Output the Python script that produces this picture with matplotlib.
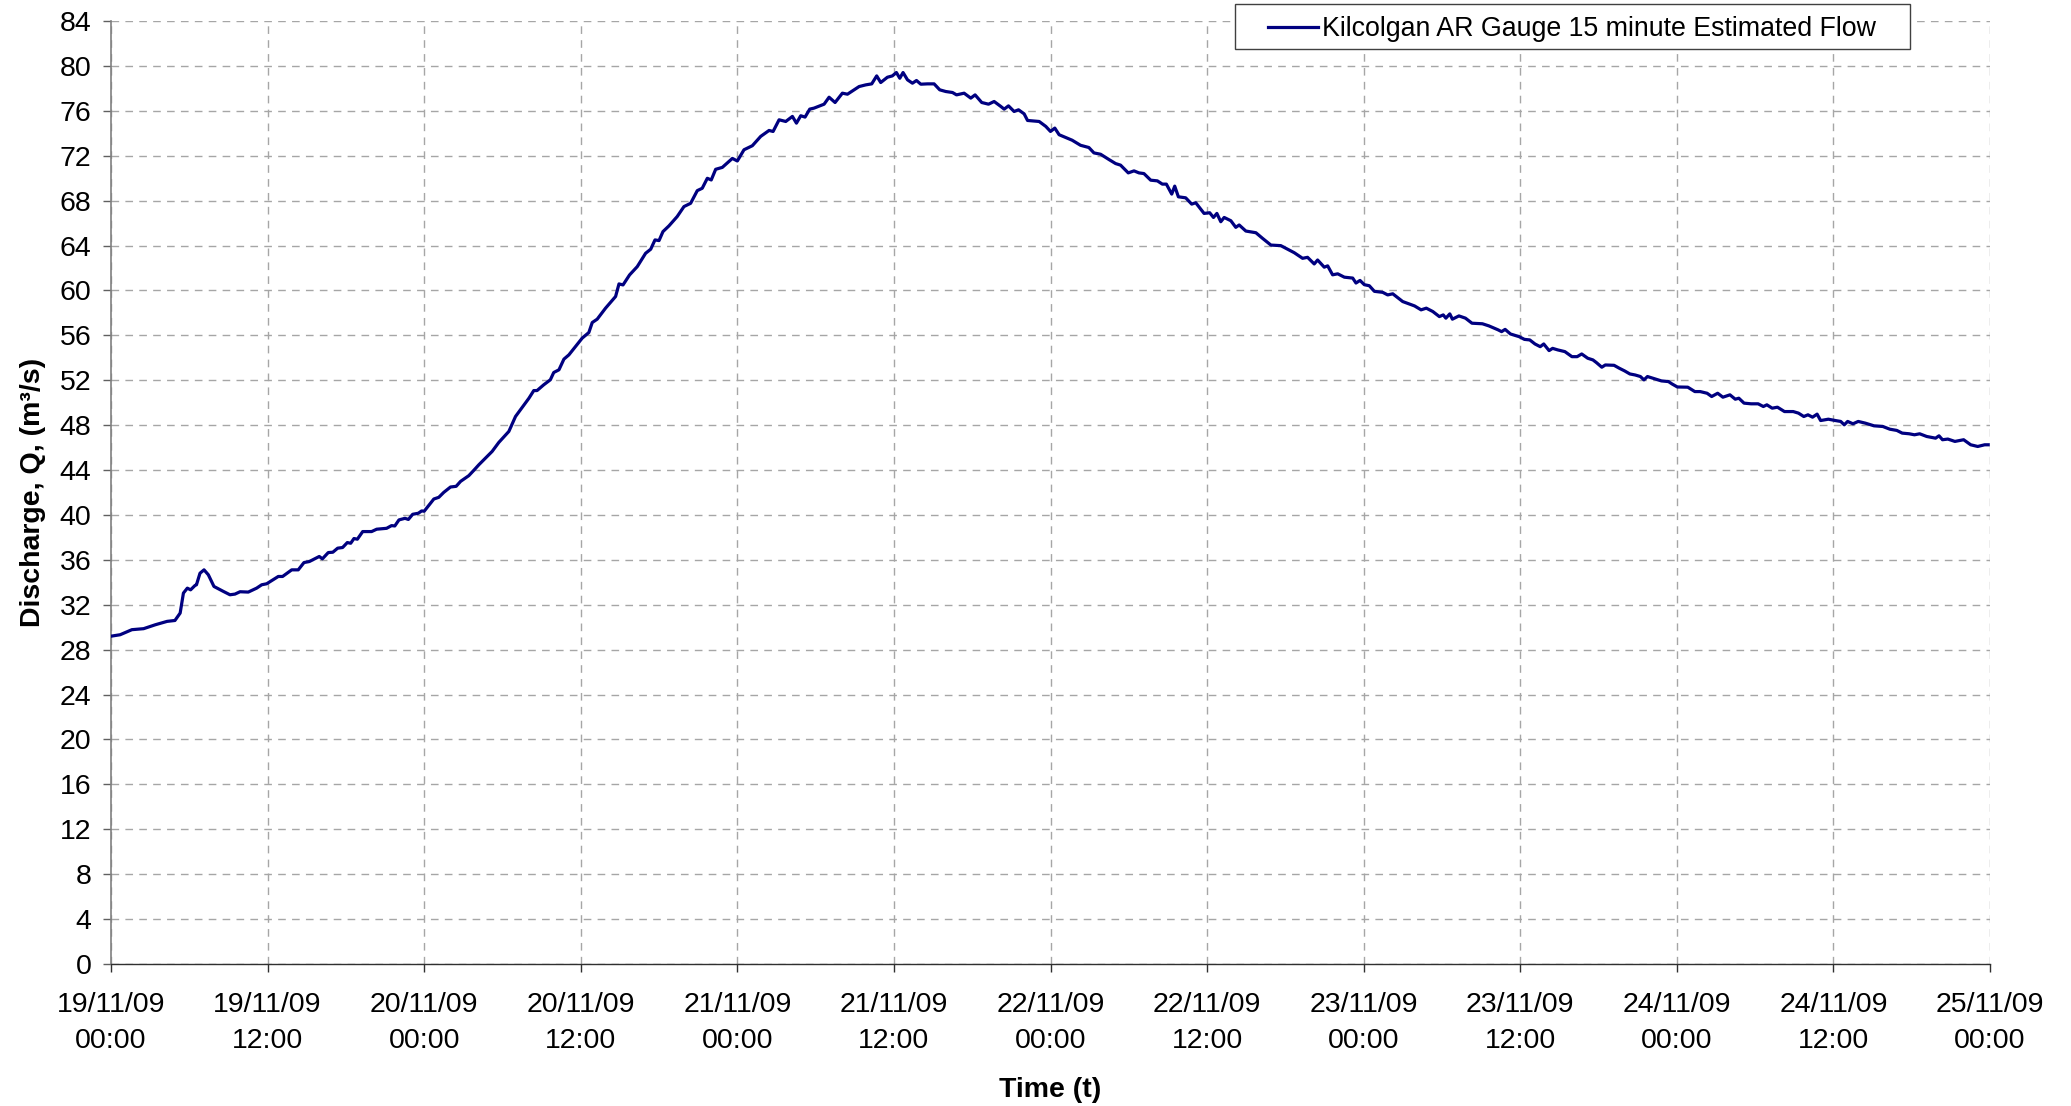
import matplotlib
matplotlib.use("Agg")
import matplotlib.pyplot as plt
from matplotlib.patches import Rectangle
from matplotlib.lines import Line2D
import pandas as pd
import numpy as np

plt.rcParams['font.family'] = ['Liberation Sans', 'DejaVu Sans']

start = pd.Timestamp("2009-11-19 00:00")

hours = [
    0.0, 0.7, 1.6, 2.5, 3.4, 4.3, 4.9, 5.3, 5.55, 5.85, 6.1, 6.44, 6.55, 6.82, 7.13, 7.46, 7.89,
    8.61, 9.12, 9.5, 9.89, 10.52, 11.16, 11.55, 11.93, 12.82, 13.15, 13.85, 14.35, 14.79, 15.2,
    15.96, 16.2, 16.65, 17.0, 17.37, 17.75, 18.11, 18.37, 18.62, 18.88, 19.29, 19.97, 20.36,
    21.12, 21.5, 21.75, 22.07, 22.53, 22.79, 23.12, 23.55, 23.81,
    24.0, 24.74, 25.12, 25.5, 26.02, 26.45, 26.79, 27.42, 27.8, 28.19, 29.21, 29.72, 30.49,
    31.0, 32.03, 32.4, 32.65, 33.16, 33.67, 33.93, 34.33, 34.71, 35.09, 35.6, 36.11, 36.62,
    36.88, 37.26, 37.9, 38.67, 38.93, 39.24, 39.74, 40.33, 40.97, 41.36, 41.69, 42.0, 42.3,
    42.76, 43.39, 43.91, 44.42, 44.93, 45.31, 45.7, 46.0, 46.34, 46.85, 47.62, 48.0,
    48.51, 49.15, 49.79, 50.43, 50.74, 51.2, 51.71, 52.22, 52.53, 52.86, 53.19, 53.55, 53.88,
    54.65, 55.03, 55.49, 56.05, 56.44, 56.95, 57.33, 57.84, 58.3, 58.68, 58.99, 59.5, 59.88,
    60.19, 60.45, 60.7, 61.04, 61.42, 61.73, 62.06, 62.57, 63.08, 63.51, 63.97, 64.49, 64.8,
    65.38, 65.89, 66.22, 66.73, 67.25, 67.68, 68.19, 68.45, 68.78, 69.21, 69.55, 69.98, 70.24,
    71.13, 71.64, 72.0, 72.33, 72.66,
    73.66, 74.3, 74.94, 75.33, 75.84, 76.48, 76.99, 77.37, 77.96, 78.4, 78.78, 79.16, 79.68,
    80.19, 80.57, 80.88, 81.29, 81.52, 81.8, 82.36, 82.82, 83.13, 83.77, 84.2, 84.49, 84.75,
    85.05, 85.31, 85.82, 86.2, 86.46, 86.97, 87.74, 88.25, 88.89, 89.65, 90.04, 90.68, 91.32,
    91.7, 92.21, 92.47, 92.98, 93.24, 93.62, 94.01, 94.52, 95.16, 95.41, 95.72, 96.05, 96.43,
    96.82, 97.46, 97.84, 98.23, 98.99, 99.9, 100.4, 100.8, 101.3, 101.8, 102.1, 102.3, 102.6,
    102.8, 103.3, 103.8, 104.3, 105.1, 105.6, 106.3,
    106.57, 106.84, 107.25, 107.92, 108.32, 108.73, 109.13, 109.53, 109.8, 110.21, 110.48,
    110.88, 111.42, 111.96, 112.36, 112.71, 113.17, 113.57, 113.84, 114.25, 114.52, 115.19,
    115.59, 116.0, 116.4, 116.8, 117.21, 117.48, 117.75, 118.42, 118.82, 119.36, 119.63,
    120.04, 120.84, 121.38, 121.79, 122.32, 122.67, 123.13, 123.53, 124.07, 124.48, 124.75,
    125.15, 125.69, 126.23, 126.63, 126.9, 127.31, 127.71, 128.25, 128.92, 129.32, 129.73,
    130.05, 130.4, 130.75, 131.02, 131.61, 132.15, 132.56, 132.83, 133.09, 133.5, 133.9,
    134.44, 135.11, 135.79, 136.32, 136.86, 137.27, 137.81, 138.21, 138.61, 139.15, 139.83,
    140.09, 140.36, 140.77, 141.31, 141.98, 142.52, 143.06, 143.59, 143.86,
]

flow = [
    29.2, 29.33, 29.78, 29.87, 30.22, 30.52, 30.6, 31.26, 33.04, 33.48, 33.33, 33.72, 33.78,
    34.81, 35.11, 34.67, 33.63, 33.19, 32.89, 32.95, 33.16, 33.13, 33.48, 33.78, 33.87, 34.52,
    34.52, 35.11, 35.11, 35.76, 35.85, 36.30, 36.09, 36.65, 36.68, 37.04, 37.10, 37.54, 37.48,
    37.9, 37.84, 38.52, 38.52, 38.73, 38.81, 39.05, 39.02, 39.56, 39.70, 39.6, 40.06, 40.15, 40.36,
    40.33, 41.42, 41.57, 42.01, 42.49, 42.55, 42.99, 43.5, 43.97, 44.47, 45.66, 46.46, 47.44,
    48.77, 50.4, 51.08, 51.08, 51.59, 52.04, 52.69, 52.93, 53.88, 54.26, 55.0, 55.75, 56.25,
    57.14, 57.44, 58.42, 59.46, 60.58, 60.49, 61.38, 62.12, 63.31, 63.67, 64.5, 64.44, 65.24,
    65.75, 66.58, 67.47, 67.76, 68.89, 69.1, 69.99, 69.84, 70.79, 70.96, 71.76, 71.53,
    72.53, 72.89, 73.72, 74.25, 74.16, 75.2, 75.05, 75.5, 74.9, 75.56, 75.44, 76.15, 76.24,
    76.59, 77.21, 76.74, 77.57, 77.48, 77.87, 78.16, 78.31, 78.4, 79.11, 78.52, 78.99, 79.11,
    79.41, 78.9, 79.41, 78.76, 78.46, 78.7, 78.37, 78.4, 78.4, 77.87, 77.72, 77.63, 77.42,
    77.57, 77.13, 77.42, 76.74, 76.59, 76.83, 76.39, 76.15, 76.44, 75.94, 76.09, 75.73, 75.14,
    75.05, 74.61, 74.16, 74.46, 73.87,
    73.38, 72.93, 72.73, 72.25, 72.13, 71.66, 71.3, 71.16, 70.47, 70.65, 70.47, 70.41, 69.82,
    69.76, 69.47, 69.47, 68.58, 69.29, 68.34, 68.25, 67.69, 67.81, 66.86, 66.92, 66.5, 66.86,
    66.12, 66.5, 66.21, 65.62, 65.83, 65.29, 65.14, 64.64, 64.04, 63.99, 63.75, 63.36, 62.86,
    62.95, 62.36, 62.71, 62.07, 62.19, 61.39, 61.48, 61.18, 61.1, 60.66, 60.89, 60.51, 60.42,
    59.92, 59.83, 59.6, 59.7, 59.01, 58.62, 58.27, 58.42, 58.12, 57.67, 57.82, 57.53, 57.91,
    57.44, 57.73, 57.53, 57.08, 57.03, 56.84, 56.49,
    56.33, 56.53, 56.12, 55.88, 55.64, 55.59, 55.23, 54.99, 55.23, 54.64, 54.84,
    54.7, 54.55, 54.1, 54.1, 54.34, 53.96, 53.81, 53.57, 53.16, 53.36, 53.33,
    53.07, 52.83, 52.56, 52.47, 52.33, 52.03, 52.33, 52.09, 51.94, 51.88, 51.67,
    51.4, 51.38, 50.99, 50.99, 50.84, 50.55, 50.84, 50.49, 50.7, 50.31, 50.4,
    49.96, 49.9, 49.9, 49.66, 49.81, 49.51, 49.6, 49.21, 49.21, 49.07, 48.77,
    48.92, 48.71, 48.98, 48.41, 48.53, 48.41, 48.33, 48.03, 48.33, 48.12, 48.33,
    48.18, 47.94, 47.88, 47.64, 47.53, 47.29, 47.23, 47.14, 47.23, 46.99, 46.84,
    47.05, 46.7, 46.76, 46.55, 46.7, 46.25, 46.1, 46.25, 46.25,
]

tick_hours = list(range(0, 145, 12))
y_ticks = list(range(0, 85, 4))
series_label = "Kilcolgan AR Gauge 15 minute Estimated Flow"
line_color = "#000080"

times = start + pd.to_timedelta(hours, unit="h")
tick_times = [start + pd.Timedelta(hours=h) for h in tick_hours]
tick_labels = [t.strftime("%d/%m/%y\n%H:%M") for t in tick_times]

W, H = 2071, 1106
fig = plt.figure(figsize=(W / 100, H / 100), dpi=100)
ax = fig.add_axes([111/W, 1 - 964/H, (1990-111)/W, (964-21)/H])

ax.plot(times, flow, color=line_color, lw=2.3, label=series_label, zorder=3)

ax.set_xlim(tick_times[0], tick_times[-1])
ax.set_ylim(0, 84)
ax.set_yticks(y_ticks)
ax.set_xticks(tick_times)
ax.set_xticklabels(tick_labels, linespacing=1.53)

grid_kw = dict(color="#a6a6a6", lw=1.0, linestyle=(0, (5.5, 4.5)))
ax.grid(True, axis="both", **grid_kw)
ax.set_axisbelow(True)

for s in ["top", "right"]:
    ax.spines[s].set_visible(False)
ax.spines["left"].set_color("#808080")
ax.spines["left"].set_linewidth(1.2)
ax.spines["bottom"].set_color("#303030")
ax.spines["bottom"].set_linewidth(1.0)

ax.tick_params(axis="y", direction="out", length=6, width=1, color="#606060",
               labelsize=20.5, pad=8)
ax.tick_params(axis="x", direction="out", length=6, width=1, color="#303030",
               labelsize=20.5, pad=14)

ax.set_xlabel("Time (t)", fontsize=20.5, fontweight="bold", labelpad=16)
ax.set_ylabel("Discharge, Q, (m³/s)", fontsize=20.5, fontweight="bold", labelpad=10)

# Legend box drawn in figure pixel space (Excel-style padding)
def fx(px):
    return px / W

def fy(py):
    return 1 - py / H

fig.patches.append(Rectangle((fx(1235), fy(49)), fx(1910) - fx(1235), fy(4) - fy(49),
                             transform=fig.transFigure, facecolor="white",
                             edgecolor="#404040", lw=1.0, zorder=5))
fig.lines.append(Line2D([fx(1268), fx(1318)], [fy(26.5), fy(26.5)],
                        transform=fig.transFigure, color=line_color, lw=2.3, zorder=6))
fig.text(fx(1322), fy(26.5), series_label, fontsize=19.3, ha="left", va="center_baseline",
         zorder=6)

fig.savefig("out.png", dpi=100)
